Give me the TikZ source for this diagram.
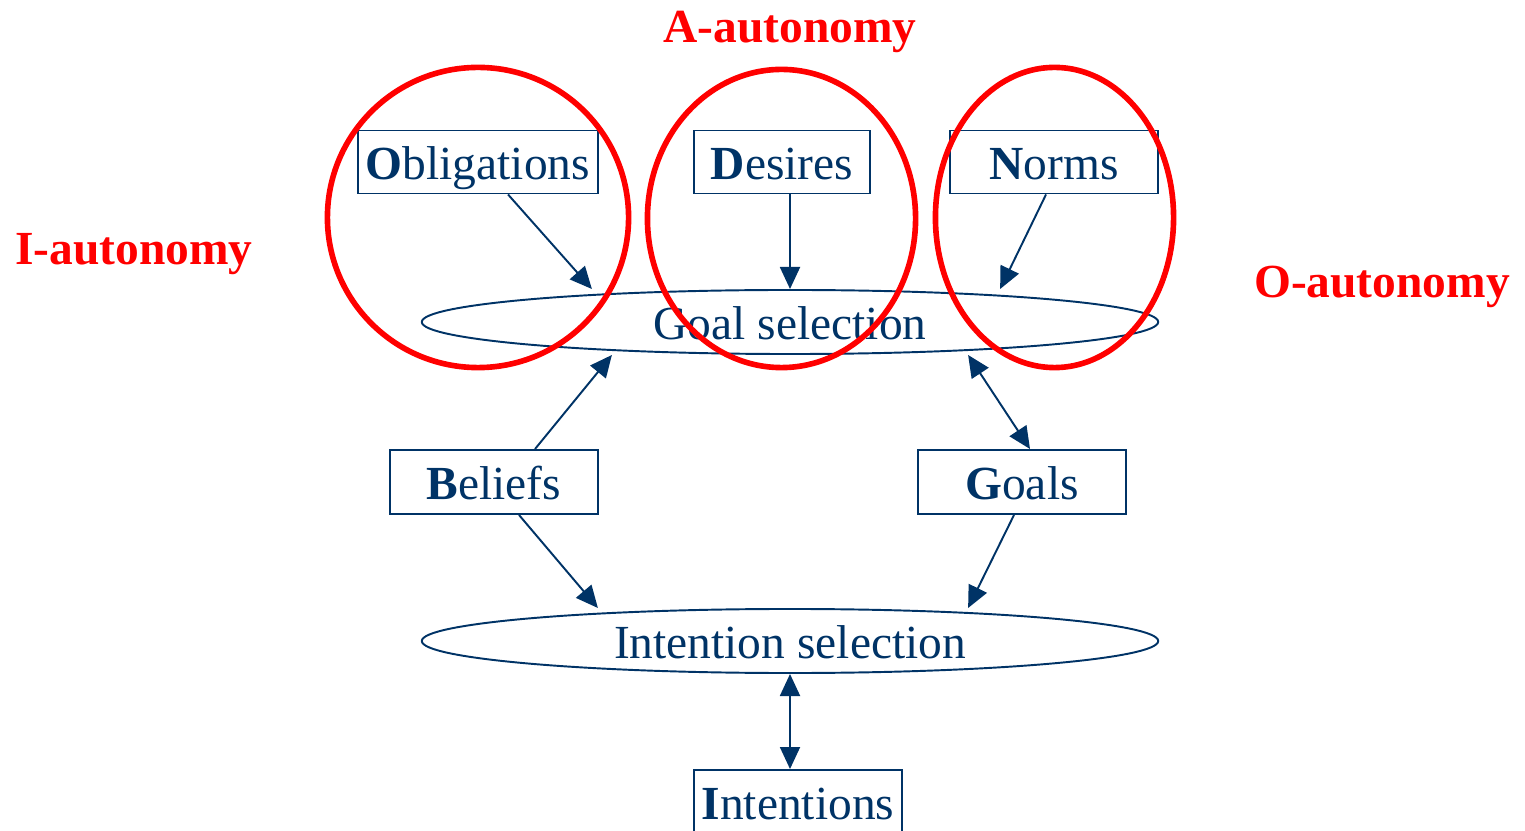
\documentclass[tikz,border=0pt]{standalone}
\usepackage{fontspec}
\setmainfont{Liberation Serif}
\usetikzlibrary{shapes,arrows.meta,positioning}
\definecolor{navy}{RGB}{0,51,102}
\definecolor{autred}{RGB}{255,0,0}
\tikzset{
    >={Triangle[length=0.22cm,width=0.2cm]},
    box/.style={draw=navy, line width=0.55pt, text=navy, inner sep=0pt,
        minimum height=0.63cm, text height=0.97em, text depth=0pt},
    sel/.style={ellipse, draw=navy, line width=0.55pt, text=navy, inner sep=0pt,
        minimum width=7.36cm, minimum height=0.64cm, text height=0.97em, text depth=0pt},
    arr/.style={draw=navy, fill=navy, line width=0.55pt, ->},
    both/.style={draw=navy, fill=navy, line width=0.55pt, <->},
    ring/.style={draw=autred, line width=1.6pt},
    aut/.style={text=autred, font=\fontsize{13.5}{16}\selectfont\bfseries, anchor=base}
}
\begin{document}
\begin{tikzpicture}[x=0.01cm, y=-0.01cm, font=\fontsize{13.5}{16}\selectfont]
    \useasboundingbox (0,0) rectangle (1525,831);
    \node[box, minimum width=2.4cm] (obl) at (478,162) {\textbf{O}bligations};
    \node[box, minimum width=1.76cm] (des) at (782,162) {\textbf{D}esires};
    \node[box, minimum width=2.08cm] (nrm) at (1054,162) {\textbf{N}orms};
    \node[sel] (gsel) at (790,322) {Goal selection};
    \node[box, minimum width=2.08cm, minimum height=0.64cm] (bel) at (494,482) {\textbf{B}eliefs};
    \node[box, minimum width=2.08cm, minimum height=0.64cm] (gls) at (1022,482) {\textbf{G}oals};
    \node[sel] (isel) at (790,641) {Intention selection};
    \node[box, minimum width=2.08cm, minimum height=0.64cm] (int) at (798,802) {\textbf{I}ntentions};

    \draw[arr] ([xshift=0.3cm]obl.south) -- ([xshift=-1.98cm]gsel.north);
    \draw[arr] (des.south -| gsel.north) -- (gsel.north);
    \draw[arr] ([xshift=-0.08cm]nrm.south) -- ([xshift=2.1cm]gsel.north);
    \draw[arr] ([xshift=0.41cm]bel.north) -- ([xshift=-1.78cm]gsel.south);
    \draw[both] ([xshift=1.78cm]gsel.south) -- ([xshift=0.08cm]gls.north);
    \draw[arr] ([xshift=0.25cm]bel.south) -- ([xshift=-1.92cm]isel.north);
    \draw[arr] ([xshift=-0.08cm]gls.south) -- ([xshift=1.78cm]isel.north);
    \draw[both] (isel.south) -- (isel.south |- int.north);

    \draw[ring] (478,217.5) ellipse (1.505cm and 1.5cm);
    \draw[ring] (781.5,218.5) ellipse (1.34cm and 1.49cm);
    \draw[ring] (1054.5,217.5) ellipse (1.19cm and 1.5cm);

    \node[aut] (aaut) at (790,43) {A-autonomy};
    \node[aut] (iaut) at (134,265) {I-autonomy};
    \node[aut] (oaut) at (1382,298) {O-autonomy};
\end{tikzpicture}
\end{document}
